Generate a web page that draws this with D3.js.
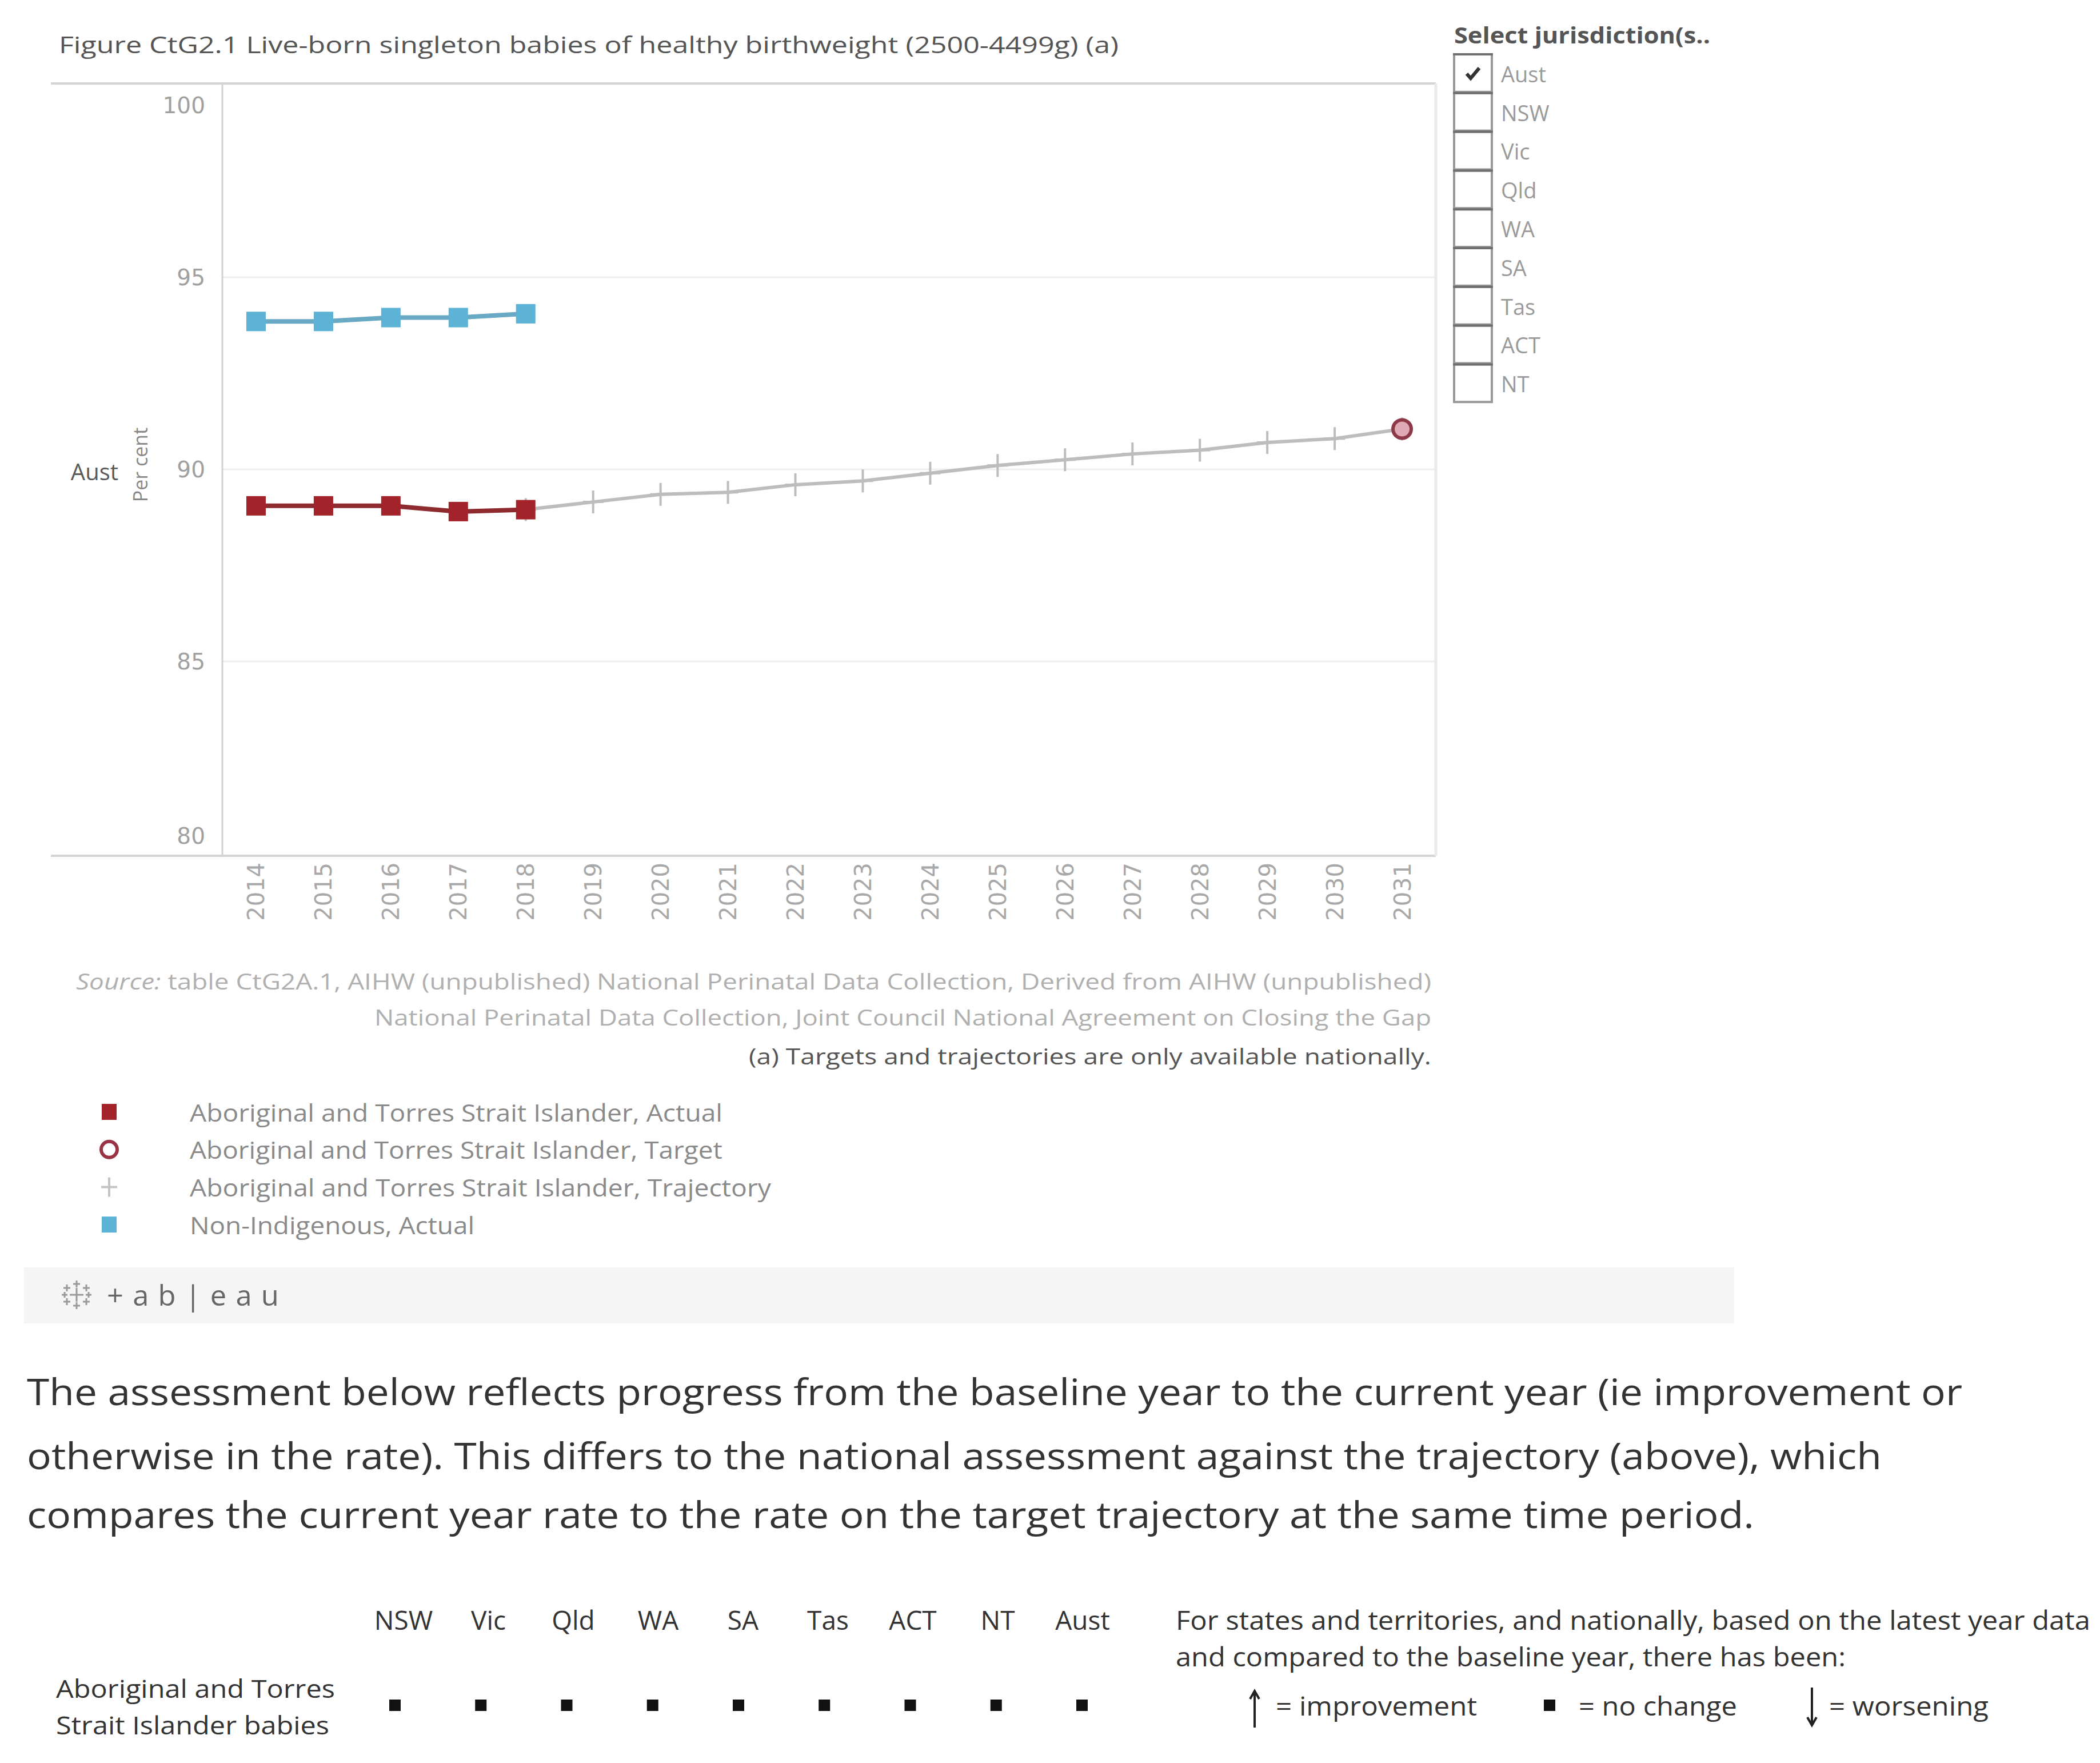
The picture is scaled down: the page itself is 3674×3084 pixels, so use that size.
<!DOCTYPE html>
<html><head><meta charset="utf-8">
<script src="https://cdn.jsdelivr.net/npm/d3@7"></script>
<style>html,body{margin:0;padding:0;background:#fff;} svg{display:block;font-family:'Open Sans',sans-serif;}</style>
</head><body><svg id="c" width="3674" height="3084"></svg>
<script>
// ---------- data ----------
const years = ["2014","2015","2016","2017","2018","2019","2020","2021","2022","2023","2024","2025","2026","2027","2028","2029","2030","2031"];
const yTicks = [80, 85, 90, 95, 100];
const actualYears = ["2014","2015","2016","2017","2018"];
const atsiActual = [89.05, 89.05, 89.05, 88.9, 88.95];
const nonIndigenousActual = [93.85, 93.85, 93.95, 93.95, 94.05];
const trajectoryYears = ["2018","2019","2020","2021","2022","2023","2024","2025","2026","2027","2028","2029","2030","2031"];
const atsiTrajectory = [88.95, 89.15, 89.35, 89.4, 89.6, 89.7, 89.9, 90.1, 90.25, 90.4, 90.5, 90.7, 90.8, 91.05];
const targetYears = ["2031"];
const atsiTarget = [91.05];
const jurisdictions = ["Aust","NSW","Vic","Qld","WA","SA","Tas","ACT","NT"];
const selectedJurisdictions = ["Aust"];
const legendLabels = ["Aboriginal and Torres Strait Islander, Actual","Aboriginal and Torres Strait Islander, Target","Aboriginal and Torres Strait Islander, Trajectory","Non-Indigenous, Actual"];
const legendKinds = ["square-red","circle","plus","square-blue"];
const tableColumns = ["NSW","Vic","Qld","WA","SA","Tas","ACT","NT","Aust"];
const tableAssessment = ["no change","no change","no change","no change","no change","no change","no change","no change","no change"];
const sourceLines = ["table CtG2A.1, AIHW (unpublished) National Perinatal Data Collection, Derived from AIHW (unpublished)",
  "National Perinatal Data Collection, Joint Council National Agreement on Closing the Gap",
  "(a) Targets and trajectories are only available nationally."];
const paragraphLines = ["The assessment below reflects progress from the baseline year to the current year (ie improvement or",
  "otherwise in the rate). This differs to the national assessment against the trajectory (above), which",
  "compares the current year rate to the rate on the target trajectory at the same time period."];

// ---------- setup ----------
const svg = d3.select("#c");
const RED = "#a3232a", REDLINE = "#8f2a2f", BLUE = "#5cb3d6", BLUELINE = "#6aa9c4", GREY = "#bdbdbd";
const plot = {left: 389, right: 2512, top: 146, bottom: 1497};
const x = d3.scalePoint().domain(years).range([plot.left, plot.right]).padding(0.5);
const y = d3.scaleLinear().domain([80, 100]).range([1493, 149]);

function fitText(sel, w){ sel.attr("textLength", w).attr("lengthAdjust", "spacingAndGlyphs"); return sel; }
// choose a font size so the natural width is close to the target (capped), then lock the width
function fitFont(sel, w, maxFs){
  sel.attr("font-size", 100);
  const w100 = sel.node().getComputedTextLength();
  const fs = Math.min(maxFs, 100 * w / w100);
  sel.attr("font-size", fs);
  return fitText(sel, w);
}

// title
fitFont(svg.append("text").attr("x", 103).attr("y", 77).attr("dominant-baseline","central")
  .attr("fill", "#555")
  .text("Figure CtG2.1 Live-born singleton babies of healthy birthweight (2500-4499g) (a)"), 1854, 41);

// gridlines
svg.append("g").selectAll("line").data(yTicks.filter(d => d > 80 && d < 100)).join("line")
  .attr("x1", plot.left).attr("x2", plot.right).attr("y1", d => y(d)).attr("y2", d => y(d))
  .attr("stroke", "#efefef").attr("stroke-width", 3);

// frame
svg.append("line").attr("x1", 89).attr("x2", plot.right).attr("y1", plot.top).attr("y2", plot.top).attr("stroke", "#d4d4d4").attr("stroke-width", 4);
svg.append("line").attr("x1", 89).attr("x2", plot.right).attr("y1", plot.bottom).attr("y2", plot.bottom).attr("stroke", "#d4d4d4").attr("stroke-width", 4);
svg.append("line").attr("x1", plot.left).attr("x2", plot.left).attr("y1", plot.top).attr("y2", plot.bottom).attr("stroke", "#d2d2d2").attr("stroke-width", 3);
svg.append("line").attr("x1", plot.right).attr("x2", plot.right).attr("y1", plot.top).attr("y2", plot.bottom).attr("stroke", "#e9e9e9").attr("stroke-width", 5);

// y axis
const yAxis = svg.append("g").attr("transform", `translate(${plot.left - 30},0)`)
  .call(d3.axisLeft(y).tickValues(yTicks).tickSize(0).tickPadding(0));
yAxis.select(".domain").remove();
yAxis.selectAll("text").attr("font-size", 39).attr("fill", "#a0a0a0").attr("font-family", "'DejaVu Sans', sans-serif")
  .attr("dy", d => d === 100 ? "1.25em" : d === 80 ? "-0.45em" : "0.35em");

svg.append("text").attr("x", 207).attr("y", 824).attr("text-anchor", "end").attr("dominant-baseline","central")
  .attr("font-size", 40).attr("fill", "#5a5a5a").text("Aust");
svg.append("text").attr("transform", "translate(245,813) rotate(-90)").attr("text-anchor", "middle").attr("dominant-baseline","central")
  .attr("font-size", 34).attr("fill", "#888").text("Per cent");

// x axis
const xAxis = svg.append("g").attr("transform", `translate(0,${plot.bottom + 12})`)
  .call(d3.axisBottom(x).tickSize(0).tickPadding(0));
xAxis.select(".domain").remove();
xAxis.selectAll("text").attr("font-size", 40).attr("fill", "#a8a8a8").attr("font-family", "'DejaVu Sans', sans-serif")
  .attr("text-anchor", "end").attr("transform", "rotate(-90)").attr("dx", 0).attr("dy", "0.35em").attr("y", 0);

// trajectory
const line = d3.line().x(d => x(d[0])).y(d => y(d[1]));
const traj = trajectoryYears.map((t, i) => [t, atsiTrajectory[i]]);
svg.append("path").attr("d", line(traj)).attr("fill", "none").attr("stroke", GREY).attr("stroke-width", 6);
svg.append("g").selectAll("path").data(traj).join("path")
  .attr("d", d => `M${x(d[0]) - 18},${y(d[1])}H${x(d[0]) + 18}M${x(d[0])},${y(d[1]) - 20}V${y(d[1]) + 20}`)
  .attr("stroke", GREY).attr("stroke-width", 4).attr("fill", "none");

// target
svg.append("g").selectAll("circle").data(targetYears.map((t, i) => [t, atsiTarget[i]])).join("circle")
  .attr("cx", d => x(d[0])).attr("cy", d => y(d[1])).attr("r", 16)
  .attr("fill", "#dfaab4").attr("stroke", "#8d3948").attr("stroke-width", 6);

// actual series
function drawActual(vals, lc, mc){
  const pts = actualYears.map((t, i) => [t, vals[i]]);
  svg.append("path").attr("d", line(pts)).attr("fill", "none").attr("stroke", lc).attr("stroke-width", 8);
  svg.append("g").selectAll("rect").data(pts).join("rect")
    .attr("x", d => x(d[0]) - 17).attr("y", d => y(d[1]) - 17).attr("width", 34).attr("height", 34).attr("fill", mc);
}
drawActual(atsiActual, REDLINE, RED);
drawActual(nonIndigenousActual, BLUELINE, BLUE);

// jurisdiction filter
fitFont(svg.append("text").attr("x", 2544).attr("y", 60).attr("dominant-baseline","central")
  .attr("font-weight", "bold").attr("fill", "#555").text("Select jurisdiction(s.."), 448, 40);
const boxH = 67.8, boxTop = 93;
const jg = svg.append("g").selectAll("g").data(jurisdictions).join("g")
  .attr("transform", (d, i) => `translate(2542,${boxTop + i * boxH})`);
jg.append("rect").attr("x", 2).attr("y", 2).attr("width", 66).attr("height", boxH - 2)
  .attr("fill", "#fff").attr("stroke", "#999").attr("stroke-width", 4);
jg.append("line").attr("x1", 0).attr("x2", 70).attr("y1", 2).attr("y2", 2).attr("stroke", "#6f6f6f").attr("stroke-width", 4);
jg.append("text").attr("x", 84).attr("y", boxH / 2 + 2).attr("dominant-baseline","central").attr("font-size", 38)
  .attr("fill", "#9a9a9a").text(d => d);
jg.filter(d => selectedJurisdictions.includes(d)).append("path")
  .attr("d", "M24,36 L31,44 L46,26").attr("fill", "none").attr("stroke", "#333").attr("stroke-width", 6);

// source notes
const src1 = svg.append("text").attr("x", 2504).attr("y", 1716).attr("text-anchor", "end").attr("dominant-baseline","central")
  .attr("fill", "#b0b0b0");
src1.append("tspan").attr("font-style", "italic").text("Source: ");
src1.append("tspan").text(sourceLines[0]);
fitFont(src1, 2371, 38);
fitFont(svg.append("text").attr("x", 2504).attr("y", 1779).attr("text-anchor", "end").attr("dominant-baseline","central")
  .attr("fill", "#b0b0b0").text(sourceLines[1]), 1849, 38);
fitFont(svg.append("text").attr("x", 2504).attr("y", 1847).attr("text-anchor", "end").attr("dominant-baseline","central")
  .attr("fill", "#555").text(sourceLines[2]), 1194, 38);

// legend
const legendW = [932, 932, 1017, 498];
const lg = svg.append("g").selectAll("g").data(legendLabels).join("g")
  .attr("transform", (d, i) => `translate(191,${1945 + i * 65.7})`);
lg.each(function(d, i){
  const g = d3.select(this), k = legendKinds[i];
  if (k === "square-red") g.append("rect").attr("x", -13).attr("y", -14).attr("width", 26).attr("height", 28).attr("fill", RED);
  if (k === "square-blue") g.append("rect").attr("x", -13).attr("y", -14).attr("width", 26).attr("height", 28).attr("fill", BLUE);
  if (k === "circle") g.append("circle").attr("r", 14).attr("fill", "#fff").attr("stroke", "#9a3445").attr("stroke-width", 6);
  if (k === "plus") g.append("path").attr("d", "M-14,0H14M0,-17V17").attr("stroke", "#c4c4c4").attr("stroke-width", 4);
  fitFont(g.append("text").attr("x", 141).attr("dominant-baseline","central").attr("fill", "#8a8a8a").text(d), legendW[i], 42);
});

// tableau bar
svg.append("rect").attr("x", 42).attr("y", 2217).attr("width", 2992).attr("height", 98).attr("fill", "#f5f5f5");
const logo = svg.append("g").attr("transform", "translate(134,2265)").attr("stroke", "#999").attr("stroke-width", 3);
[[0,0,12],[-17,-12,6],[17,-12,6],[-17,12,6],[17,12,6],[0,-19,6],[0,19,6],[-21,0,5],[21,0,5]].forEach(p => {
  logo.append("path").attr("d", `M${p[0]-p[2]},${p[1]}H${p[0]+p[2]}M${p[0]},${p[1]-p[2]}V${p[1]+p[2]}`);
});
fitText(svg.append("text").attr("x", 187).attr("y", 2265).attr("dominant-baseline","central").attr("font-size", 50)
  .attr("fill", "#666").attr("letter-spacing", 16).text("+ab|eau"), 317);

// paragraph
const paraY = [2433, 2545, 2648], paraW = [3386, 3245, 3022];
paragraphLines.forEach((t, i) => {
  fitText(svg.append("text").attr("x", 47).attr("y", paraY[i]).attr("dominant-baseline","central")
    .attr("font-size", 64).attr("fill", "#333").text(t), paraW[i]);
});

// assessment table
const colX = d3.scalePoint().domain(tableColumns).range([706, 1894]);
svg.append("g").selectAll("text").data(tableColumns).join("text")
  .attr("x", d => colX(d)).attr("y", 2833).attr("text-anchor", "middle").attr("dominant-baseline","central")
  .attr("font-size", 46).attr("fill", "#333").text(d => d);
fitText(svg.append("text").attr("x", 98).attr("y", 2953).attr("dominant-baseline","central").attr("font-size", 44).attr("fill", "#333").text("Aboriginal and Torres"), 488);
fitText(svg.append("text").attr("x", 98).attr("y", 3017).attr("dominant-baseline","central").attr("font-size", 44).attr("fill", "#333").text("Strait Islander babies"), 478);
const squareX = d3.scalePoint().domain(tableColumns).range([691, 1893]);
svg.append("g").selectAll("rect").data(tableColumns.filter((c, i) => tableAssessment[i] === "no change")).join("rect")
  .attr("x", d => squareX(d) - 10).attr("y", 2973).attr("width", 20).attr("height", 20).attr("fill", "#111");

fitText(svg.append("text").attr("x", 2057).attr("y", 2833).attr("dominant-baseline","central").attr("font-size", 46).attr("fill", "#333")
  .text("For states and territories, and nationally, based on the latest year data"), 1600);
fitText(svg.append("text").attr("x", 2057).attr("y", 2897).attr("dominant-baseline","central").attr("font-size", 46).attr("fill", "#333")
  .text("and compared to the baseline year, there has been:"), 1172);

// key
svg.append("path").attr("d", "M2195,3022V2960M2187,2972L2195,2958L2203,2972").attr("stroke", "#222").attr("stroke-width", 4).attr("fill", "none");
fitText(svg.append("text").attr("x", 2232).attr("y", 2983).attr("dominant-baseline","central").attr("font-size", 46).attr("fill", "#333").text("= improvement"), 352);
svg.append("rect").attr("x", 2701).attr("y", 2973).attr("width", 20).attr("height", 20).attr("fill", "#111");
fitText(svg.append("text").attr("x", 2762).attr("y", 2983).attr("dominant-baseline","central").attr("font-size", 46).attr("fill", "#333").text("= no change"), 277);
svg.append("path").attr("d", "M3170,2952V3016M3162,3004L3170,3018L3178,3004").attr("stroke", "#222").attr("stroke-width", 4).attr("fill", "none");
fitText(svg.append("text").attr("x", 3200).attr("y", 2983).attr("dominant-baseline","central").attr("font-size", 46).attr("fill", "#333").text("= worsening"), 279);
</script></body></html>
